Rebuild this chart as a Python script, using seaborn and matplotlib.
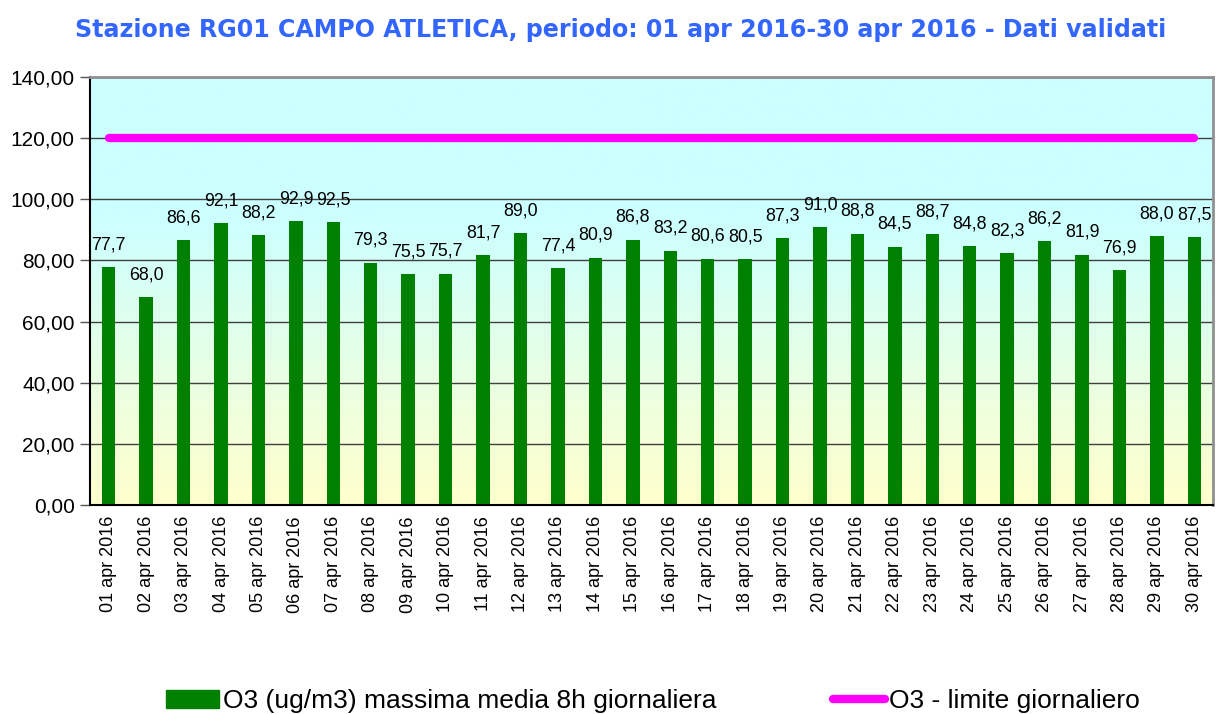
import numpy as np
import pandas as pd
import matplotlib
matplotlib.use("Agg")
import matplotlib.pyplot as plt
import seaborn as sns
from matplotlib.colors import LinearSegmentedColormap
from matplotlib.patches import Patch
from matplotlib.lines import Line2D

dates = [f"{d:02d} apr 2016" for d in range(1, 31)]
o3_values = [77.7, 68.0, 86.6, 92.1, 88.2, 92.9, 92.5, 79.3, 75.5, 75.7,
             81.7, 89.0, 77.4, 80.9, 86.8, 83.2, 80.6, 80.5, 87.3, 91.0,
             88.8, 84.5, 88.7, 84.8, 82.3, 86.2, 81.9, 76.9, 88.0, 87.5]
limit_values = [120.0] * 30
y_ticks = [0, 20, 40, 60, 80, 100, 120, 140]
title = "Stazione RG01 CAMPO ATLETICA, periodo: 01 apr 2016-30 apr 2016 - Dati validati"
legend_labels = ["O3 (ug/m3) massima media 8h giornaliera", "O3 - limite giornaliero"]

sns.set_style("white")
plt.rcParams['font.family'] = ['Liberation Sans', 'DejaVu Sans']
plt.rcParams['text.color'] = 'black'
plt.rcParams['xtick.color'] = 'black'
plt.rcParams['ytick.color'] = 'black'
plt.rcParams['xtick.labelcolor'] = 'black'
plt.rcParams['ytick.labelcolor'] = 'black'

df = pd.DataFrame({"data": dates, "o3": o3_values})

fig = plt.figure(figsize=(12.21, 7.14), dpi=100)
ax = fig.add_axes([0.0737, 0.2927, 0.9198, 0.5995])

# gradient background
cmap = LinearSegmentedColormap.from_list("bg", ["#FFFFCC", "#E6FFE6", "#CCFFFF", "#CCFFFF"])
grad = np.linspace(0, 1, 256).reshape(-1, 1)
ax.imshow(grad, extent=[-0.5, 29.5, 0, 140], origin="lower", aspect="auto",
          cmap=cmap, zorder=0)

sns.barplot(data=df, x="data", y="o3", color="#008000", saturation=1,
            width=0.36, linewidth=0, ax=ax, zorder=3)

ax.plot(range(len(dates)), limit_values, color="#FF00FF", lw=6,
        solid_capstyle="round", zorder=4)

for i, v in enumerate(o3_values):
    ax.annotate(f"{v:.1f}".replace(".", ","), (i, v), xytext=(0, 16),
                textcoords="offset points", ha="center", va="center",
                fontsize=12.8, color="black", zorder=5)

ax.set_xlim(-0.5, 29.5)
ax.set_ylim(0, 140)
ax.set_yticks(y_ticks)
ax.set_yticklabels([f"{t:.2f}".replace(".", ",") for t in y_ticks], fontsize=15)
ax.yaxis.grid(True, color="#404040", lw=1, zorder=1)
ax.set_axisbelow(False)
for gl in ax.get_ygridlines():
    gl.set_zorder(1)

ax.set_xticks(range(len(dates)))
ax.set_xticklabels(dates, rotation=90, fontsize=13)
ax.set_xticks(np.arange(-0.5, 30, 1), minor=True)
ax.tick_params(axis="x", which="major", length=0, pad=8)
ax.tick_params(axis="x", which="minor", length=6, width=1, color="black")
ax.tick_params(axis="y", length=7, width=1, color="#555555", left=True, pad=4)
ax.set_xlabel("")
ax.set_ylabel("")

for s in ["left", "bottom"]:
    ax.spines[s].set_color("black")
    ax.spines[s].set_linewidth(1.5)
for s in ["top", "right"]:
    ax.spines[s].set_color("#909090")
    ax.spines[s].set_linewidth(2)
for s in ax.spines.values():
    s.set_zorder(6)

fig.text(0.5085, 0.958, title, ha="center", va="center", fontsize=17.1,
         fontweight="bold", color="#3366FF", family="DejaVu Sans")

handles = [Patch(facecolor="#008000", edgecolor="#008000"),
           Line2D([0], [0], color="#FF00FF", lw=6, solid_capstyle="round")]
fig.legend(handles, legend_labels, loc="center", bbox_to_anchor=(0.535, 0.018),
           ncol=2, frameon=False, fontsize=19, handlelength=2.0,
           handletextpad=0.15, columnspacing=4.4)

fig.savefig("out.png", dpi=100)
